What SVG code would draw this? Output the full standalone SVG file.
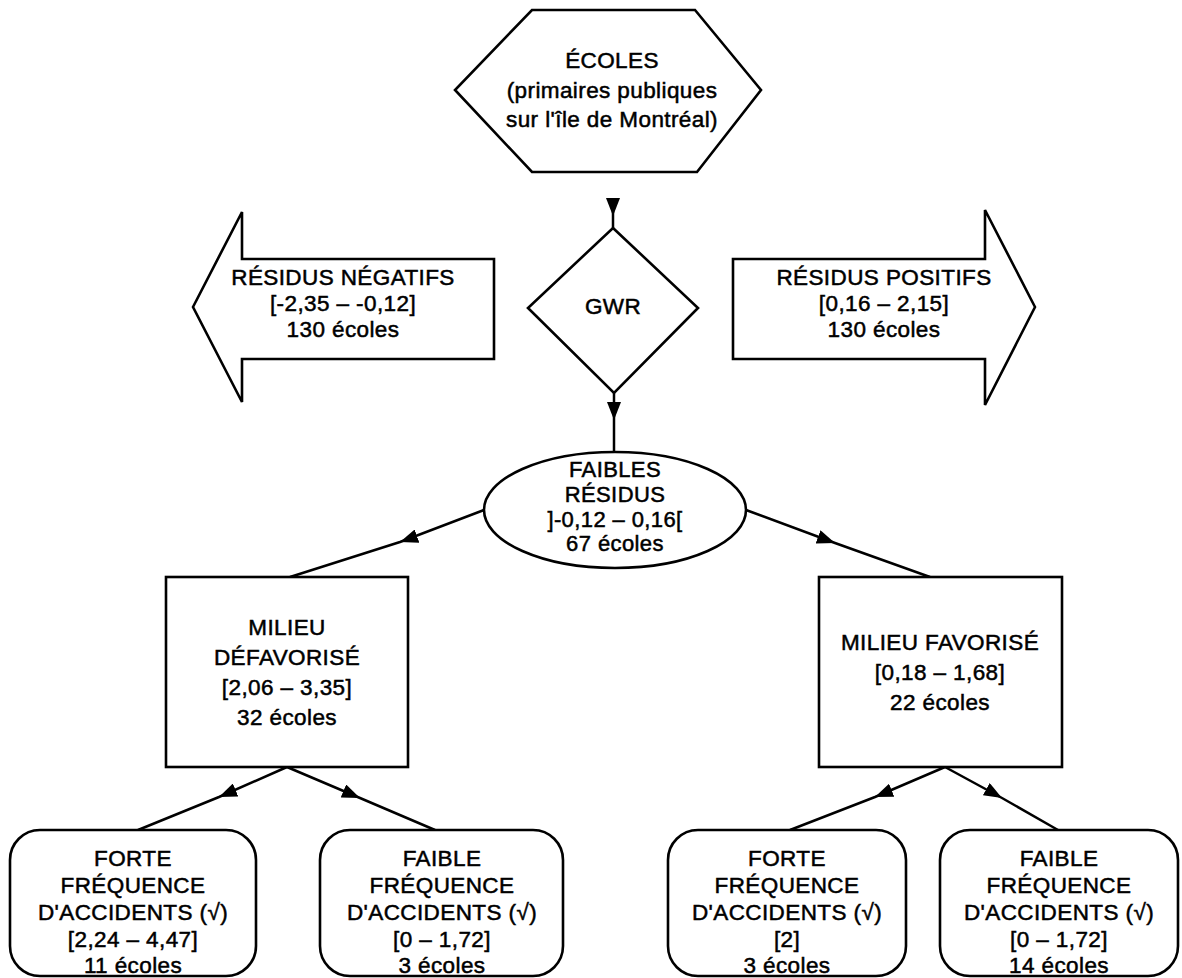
<svg xmlns="http://www.w3.org/2000/svg" width="1182" height="978" viewBox="0 0 1182 978">
  <style>
    .shape { fill: #fff; stroke: #000; stroke-width: 2.6; stroke-linejoin: miter; }
    .link { fill: none; stroke: #000; stroke-width: 2.5; marker-mid: url(#head); }
    text { font-family: "Liberation Sans", Arial, sans-serif; font-size: 22.5px; fill: #000; stroke: #000; stroke-width: 0.5; text-anchor: middle; letter-spacing: 0.4px; }
    .tight { font-size: 22px; }
  </style>
  <defs>
    <marker id="head" viewBox="0 0 18 14" refX="18" refY="7" markerWidth="18" markerHeight="14" markerUnits="userSpaceOnUse" orient="auto">
      <path d="M0,0 L18,7 L0,14 Z" fill="#000"/>
    </marker>
  </defs>
  <rect width="1182" height="978" fill="#fff"/>

  <!-- connectors -->
  <g id="connectors">
    <polyline class="link" points="613,198 613,216 613,228"/>
    <polyline class="link" points="614,393 614,420 614,452"/>
    <polyline class="link" points="484,510 400,542 290,577"/>
    <polyline class="link" points="746,510 835,543 930,577"/>
    <polyline class="link" points="287,767 219,797 138,830"/>
    <polyline class="link" points="287,767 360,798 435,830"/>
    <polyline class="link" points="945,767 875,797 790,830"/>
    <polyline class="link" points="945,767 1002,798 1058,830"/>
  </g>

  <!-- source set -->
  <g id="ecoles">
    <polygon class="shape" points="532,10 695,10 761,90 697,172 532,172 455,90"/>
    <text x="612" y="68">ÉCOLES</text>
    <text x="612" y="98">(primaires publiques</text>
    <text x="612" y="127">sur l'île de Montréal)</text>
  </g>

  <!-- regression step -->
  <g id="gwr">
    <polygon class="shape" points="613,228 698,308 614,393 528,308"/>
    <text x="613" y="314">GWR</text>
  </g>

  <g id="residus-negatifs">
    <polygon class="shape" points="193,307 242,212 242,259 494,259 494,359 242,359 242,402"/>
    <text x="343" y="285">RÉSIDUS NÉGATIFS</text>
    <text x="343" y="311">[-2,35 – -0,12]</text>
    <text x="343" y="337">130 écoles</text>
  </g>

  <g id="residus-positifs">
    <polygon class="shape" points="1035,307 985,210 985,259 733,259 733,359 985,359 985,405"/>
    <text x="884" y="285">RÉSIDUS POSITIFS</text>
    <text x="884" y="311">[0,16 – 2,15]</text>
    <text x="884" y="337">130 écoles</text>
  </g>

  <g id="faibles-residus">
    <ellipse class="shape" cx="615" cy="510" rx="131" ry="58"/>
    <text class="tight" x="615" y="477">FAIBLES</text>
    <text class="tight" x="615" y="502">RÉSIDUS</text>
    <text class="tight" x="615" y="527">]-0,12 – 0,16[</text>
    <text class="tight" x="615" y="551">67 écoles</text>
  </g>

  <g id="milieu-defavorise">
    <rect class="shape" x="166" y="577" width="242" height="190"/>
    <text x="287" y="635">MILIEU</text>
    <text x="287" y="665">DÉFAVORISÉ</text>
    <text x="287" y="695">[2,06 – 3,35]</text>
    <text x="287" y="725">32 écoles</text>
  </g>

  <g id="milieu-favorise">
    <rect class="shape" x="819" y="577" width="243" height="190"/>
    <text x="940" y="650">MILIEU FAVORISÉ</text>
    <text x="940" y="680">[0,18 – 1,68]</text>
    <text x="940" y="710">22 écoles</text>
  </g>

  <g id="defav-forte">
    <rect class="shape" x="10" y="830" width="246" height="146" rx="30" ry="30"/>
    <text x="133" y="866">FORTE</text>
    <text x="133" y="893">FRÉQUENCE</text>
    <text x="133" y="920">D'ACCIDENTS (√)</text>
    <text x="133" y="947">[2,24 – 4,47]</text>
    <text x="133" y="973">11 écoles</text>
  </g>

  <g id="defav-faible">
    <rect class="shape" x="320" y="830" width="243" height="146" rx="30" ry="30"/>
    <text x="442" y="866">FAIBLE</text>
    <text x="442" y="893">FRÉQUENCE</text>
    <text x="442" y="920">D'ACCIDENTS (√)</text>
    <text x="442" y="947">[0 – 1,72]</text>
    <text x="442" y="973">3 écoles</text>
  </g>

  <g id="fav-forte">
    <rect class="shape" x="668" y="830" width="238" height="146" rx="30" ry="30"/>
    <text x="787" y="866">FORTE</text>
    <text x="787" y="893">FRÉQUENCE</text>
    <text x="787" y="920">D'ACCIDENTS (√)</text>
    <text x="787" y="947">[2]</text>
    <text x="787" y="973">3 écoles</text>
  </g>

  <g id="fav-faible">
    <rect class="shape" x="940" y="830" width="238" height="146" rx="30" ry="30"/>
    <text x="1059" y="866">FAIBLE</text>
    <text x="1059" y="893">FRÉQUENCE</text>
    <text x="1059" y="920">D'ACCIDENTS (√)</text>
    <text x="1059" y="947">[0 – 1,72]</text>
    <text x="1059" y="973">14 écoles</text>
  </g>
</svg>
